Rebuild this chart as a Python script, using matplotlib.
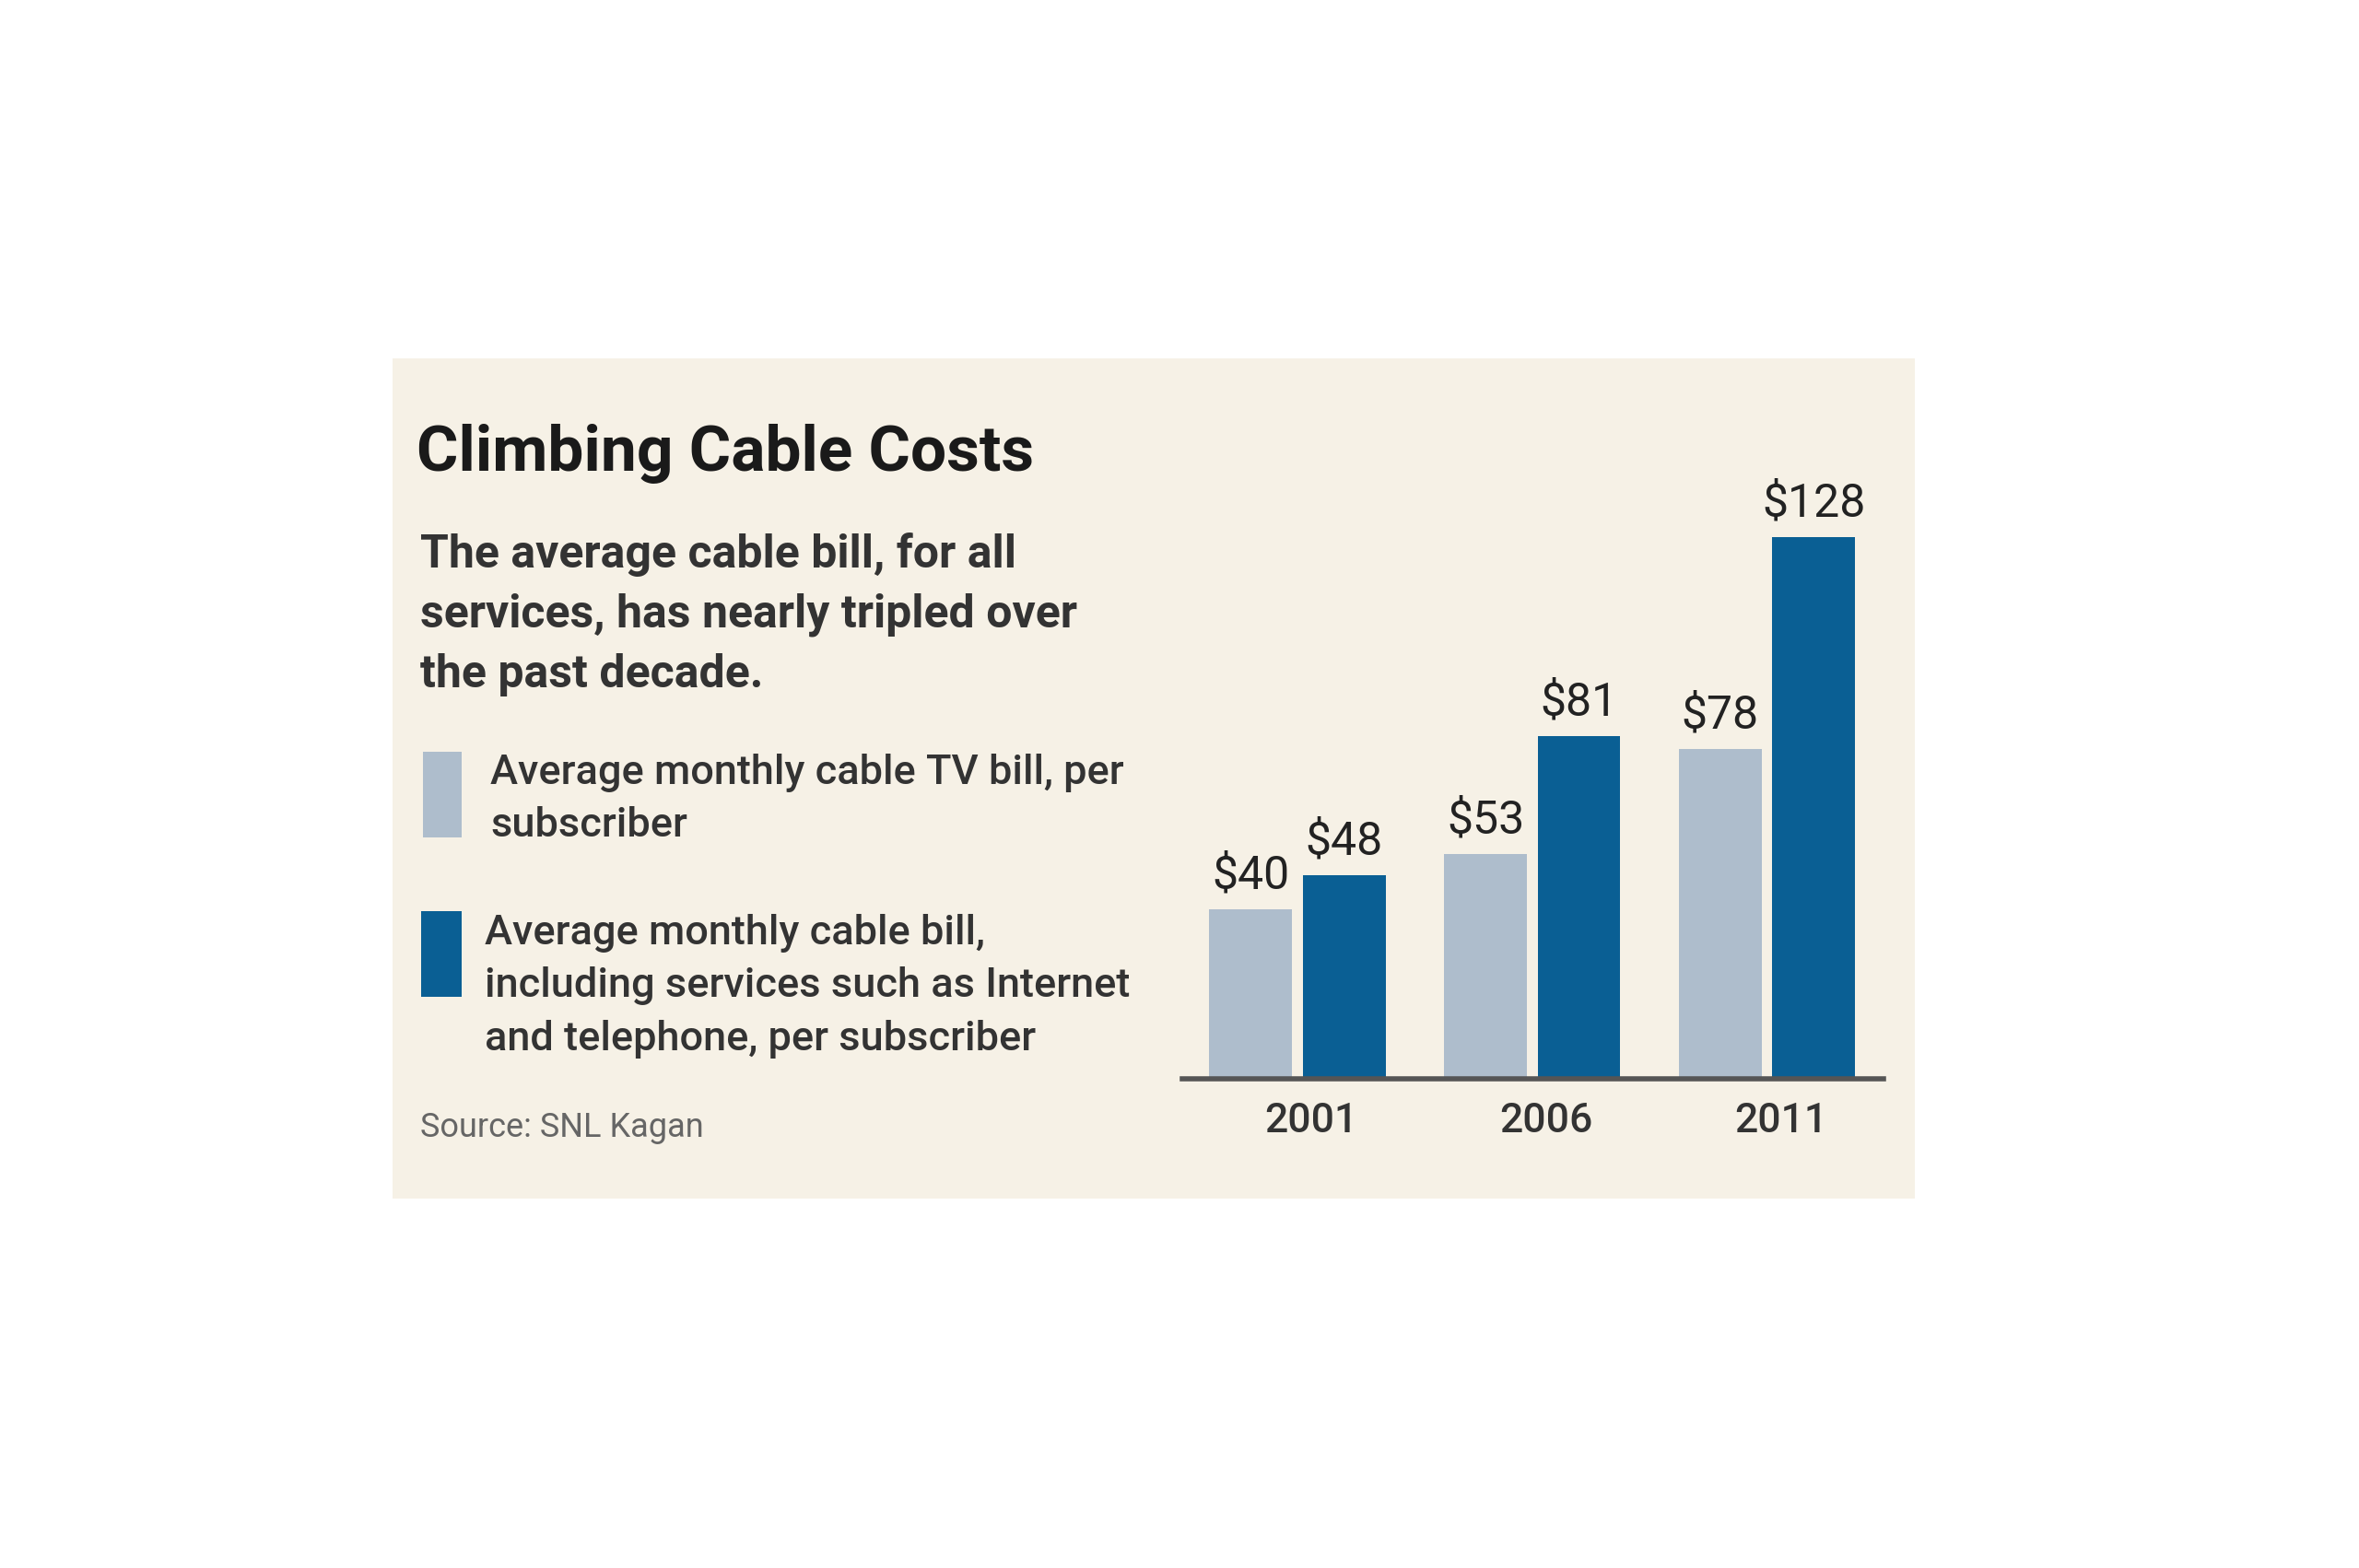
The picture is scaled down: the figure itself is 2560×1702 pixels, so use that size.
import matplotlib.pyplot as plt
from matplotlib.patches import Rectangle
import numpy as np

years = ["2001", "2006", "2011"]
tv_bill = [40, 53, 78]
total_bill = [48, 81, 128]

title = "Climbing Cable Costs"
subtitle = ["The average cable bill, for all",
            "services, has nearly tripled over",
            "the past decade."]
legend_tv = ["Average monthly cable TV bill, per", "subscriber"]
legend_total = ["Average monthly cable bill,",
                "including services such as Internet",
                "and telephone, per subscriber"]
source = "Source: SNL Kagan"

LIGHT = "#aebdcc"
DARK = "#0a5f94"
PANEL = "#f6f1e6"

plt.rcParams['font.family'] = ["Roboto", "DejaVu Sans"]

W, H = 2560, 1702
S = 2560 / 1568.0  # reference measured in a 1568 px wide view


def fx(x):
    return x * S / W


def fy(y):
    return 1 - y * S / H


fig = plt.figure(figsize=(25.6, 17.02), dpi=100)
fig.patch.set_facecolor("white")

# beige panel, behind everything
fig.patches.append(Rectangle((fx(261), fy(797)), fx(1273) - fx(261), fy(238) - fy(797),
                             transform=fig.transFigure, facecolor=PANEL, edgecolor="none", zorder=-5))

fig.text(fx(277), fy(313), title, fontsize=50, fontweight="bold", color="#1a1a1a", va="baseline")

for i, line in enumerate(subtitle):
    fig.text(fx(279), fy(377 + 40 * i), line, fontsize=36, fontweight="bold", color="#333333", va="baseline")

# legend
fig.patches.append(Rectangle((fx(281), fy(557)), fx(307) - fx(281), fy(500) - fy(557),
                             transform=fig.transFigure, facecolor=LIGHT, edgecolor="none"))
fig.patches.append(Rectangle((fx(280), fy(663)), fx(307) - fx(280), fy(606) - fy(663),
                             transform=fig.transFigure, facecolor=DARK, edgecolor="none"))
for i, line in enumerate(legend_tv):
    fig.text(fx(326), fy(521 + 35 * i), line, fontsize=32.5, fontweight="medium", color="#333333", va="baseline")
for i, line in enumerate(legend_total):
    fig.text(fx(322), fy(628 + 35 * i), line, fontsize=32.5, fontweight="medium", color="#333333", va="baseline")

fig.text(fx(279), fy(756), source, fontsize=26, color="#666666", va="baseline")

# bar chart
ax = fig.add_axes([fx(786), fy(717), fx(1252) - fx(786), fy(300) - fy(717)])
ax.set_facecolor("none")
x = np.arange(len(years))
w = 0.353
off = 0.199
b1 = ax.bar(x - off, tv_bill, w, color=LIGHT)
b2 = ax.bar(x + off, total_bill, w, color=DARK)
for bars, vals in ((b1, tv_bill), (b2, total_bill)):
    for bar, v in zip(bars, vals):
        ax.annotate("$%d" % v, (bar.get_x() + bar.get_width() / 2, v), xytext=(0, 9),
                    textcoords="offset points", ha="center", va="bottom",
                    fontsize=36, color="#222222")

ax.set_xlim(-0.49, 2.497)
ax.set_ylim(0, 148.4)
ax.set_xticks(x + 0.06)
ax.set_xticklabels(years, fontsize=32, fontweight="medium", color="#333333")
ax.tick_params(axis="x", length=0, pad=18)
ax.set_yticks([])
for s in ["top", "right", "left"]:
    ax.spines[s].set_visible(False)
ax.spines["bottom"].set_color("#555555")
ax.spines["bottom"].set_linewidth(4)

fig.savefig("out.png", dpi=100, facecolor="white")
